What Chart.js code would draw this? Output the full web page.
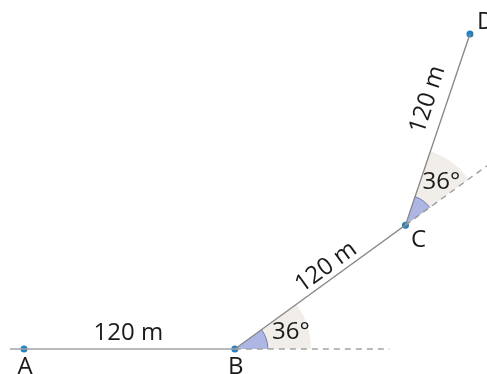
<!DOCTYPE html>
<html>
<head>
<meta charset="utf-8">
<script src="https://cdn.jsdelivr.net/npm/chart.js@4/dist/chart.umd.min.js"></script>
<style>
html,body{margin:0;padding:0;background:#fff;}
#wrap{width:487px;height:374px;position:relative;}
</style>
</head>
<body>
<div id="wrap"><canvas id="c" width="487" height="374"></canvas></div>
<script>
// Points of the path (metres)
const pointNames = ['A', 'B', 'C', 'D'];
const pointX = [0, 120, 217.1, 253.8];
const pointY = [0, 0, 70.5, 179.2];
// Segment labels and turning angles
const segmentLabels = ['120 m', '120 m', '120 m'];
const angleLabels = ['36°', '36°'];
const angleDeg = [36, 36];
// Extension lines (metres)
const leadInX = -8;              // solid line starts left of A
const dashEndB = [208, 0];       // dashed continuation after B
const dashEndC = [263.5, 104.3]; // dashed continuation after C

const P = i => ({x: pointX[i], y: pointY[i]});

const geoPlugin = {
  id: 'geo',
  beforeDatasetsDraw(chart) {
    const {ctx, scales:{x, y}} = chart;
    const px = i => x.getPixelForValue(pointX[i]);
    const py = i => y.getPixelForValue(pointY[i]);
    const sectors = [
      {i: 1, a0: 0, a1: angleDeg[0], rBig: 76, rSmall: 33},
      {i: 2, a0: angleDeg[0], a1: angleDeg[0] + angleDeg[1], rBig: 78, rSmall: 30}
    ];
    ctx.save();
    sectors.forEach(s => {
      const cx = px(s.i), cy = py(s.i);
      const a0 = -s.a0 * Math.PI / 180, a1 = -s.a1 * Math.PI / 180;
      ctx.beginPath();
      ctx.moveTo(cx, cy);
      ctx.arc(cx, cy, s.rBig, a1, a0);
      ctx.closePath();
      ctx.fillStyle = '#f1eeea';
      ctx.fill();
      ctx.beginPath();
      ctx.moveTo(cx, cy);
      ctx.arc(cx, cy, s.rSmall, a1, a0);
      ctx.closePath();
      ctx.fillStyle = '#aeb6e4';
      ctx.fill();
      ctx.beginPath();
      ctx.arc(cx, cy, s.rSmall, a1, a0);
      ctx.strokeStyle = '#6f7fc4';
      ctx.lineWidth = 1;
      ctx.stroke();
    });
    ctx.restore();
  },
  afterDatasetsDraw(chart) {
    const {ctx, scales:{x, y}} = chart;
    const px = i => x.getPixelForValue(pointX[i]);
    const py = i => y.getPixelForValue(pointY[i]);
    ctx.save();
    ctx.fillStyle = '#1a1a1a';
    ctx.font = '24px "Open Sans", "Noto Sans", sans-serif';
    ctx.textAlign = 'center';
    ctx.textBaseline = 'middle';
    // point names
    ctx.fillText(pointNames[0], px(0) + 1, py(0) + 18);
    ctx.fillText(pointNames[1], px(1) + 1, py(1) + 18);
    ctx.fillText(pointNames[2], px(2) + 13, py(2) + 15);
    ctx.textAlign = 'left';
    ctx.fillText(pointNames[3], px(3) + 7, py(3) - 12);
    ctx.textAlign = 'center';
    // segment labels: offsets from segment midpoints
    const segAngles = [0, angleDeg[0], angleDeg[0] + angleDeg[1]];
    const offs = [[-1, -16], [6, -20], [-10, -30]];
    for (let k = 0; k < 3; k++) {
      const mx = (px(k) + px(k + 1)) / 2, my = (py(k) + py(k + 1)) / 2;
      const a = segAngles[k] * Math.PI / 180;
      ctx.save();
      ctx.translate(mx + offs[k][0], my + offs[k][1]);
      ctx.rotate(-a);
      ctx.fillText(segmentLabels[k], 0, 0);
      ctx.restore();
    }
    // angle labels
    ctx.fillText(angleLabels[0], px(1) + 56, py(1) - 17);
    ctx.fillText(angleLabels[1], px(2) + 36, py(2) - 43);
    ctx.restore();
  }
};

new Chart(document.getElementById('c'), {
  type: 'scatter',
  data: {
    datasets: [
      {data: [{x: leadInX, y: 0}, P(1)], showLine: true, borderColor: '#a3a3a3', borderWidth: 1.6, pointRadius: 0},
      {data: [P(1), {x: dashEndB[0], y: dashEndB[1]}], showLine: true, borderColor: '#a3a3a3', borderWidth: 1.6, borderDash: [6, 5], pointRadius: 0},
      {data: [P(2), {x: dashEndC[0], y: dashEndC[1]}], showLine: true, borderColor: '#9a9a9a', borderWidth: 1.4, borderDash: [6, 5], pointRadius: 0},
      {data: [P(1), P(2), P(3)], showLine: true, borderColor: '#8a8a8a', borderWidth: 1.4, pointRadius: 0},
      {data: [P(0), P(1), P(2), P(3)], showLine: false, pointRadius: 3.5, pointBackgroundColor: '#2680c0', pointBorderWidth: 0}
    ]
  },
  options: {
    responsive: false,
    animation: false,
    events: [],
    layout: {padding: 0, autoPadding: false},
    plugins: {legend: {display: false}, tooltip: {enabled: false}},
    scales: {
      x: {type: 'linear', display: false, min: -13.66, max: 263.5},
      y: {type: 'linear', display: false, min: -14.2, max: 198.6}
    }
  },
  plugins: [geoPlugin]
});
</script>
</body>
</html>
